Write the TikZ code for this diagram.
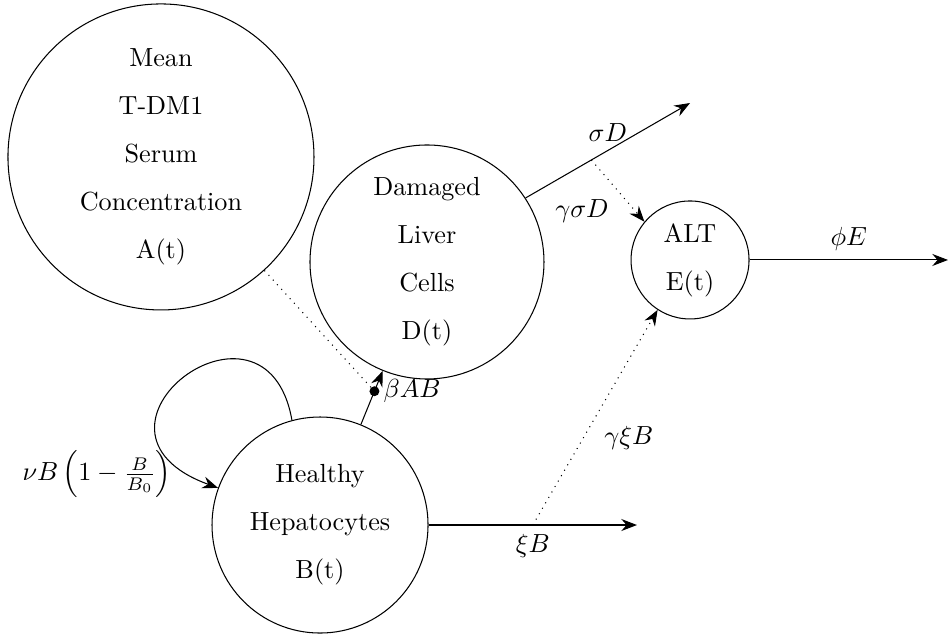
\documentclass[tikz,border=0pt]{standalone}
\usepackage{tikz}
\usetikzlibrary{calc,arrows.meta}

\begin{document}
\begin{tikzpicture}[>={Stealth[length=6pt,width=4.6pt,inset=2pt]},
	compartment/.style={circle, draw, align=center, inner sep=0pt}]
		\useasboundingbox (0,0) rectangle (12.726,8.551);
		\node [compartment, minimum size=4.108cm] (A) at (2.161,6.444) {Mean\\[6.3pt]T-DM1\\[6.3pt]Serum\\[6.3pt]Concentration\\[6.3pt]A(t)};
		\node [compartment, minimum size=3.141cm] (D) at (5.732,5.034) {Damaged\\[6.3pt]Liver\\[6.3pt]Cells\\[6.3pt]D(t)};
		\node [compartment, minimum size=1.584cm] (E) at (9.263,5.061) {ALT\\[6.3pt]E(t)};
		\node [compartment, minimum size=2.900cm] (B) at (4.296,1.503) {Healthy\\[6.3pt]Hepatocytes\\[6.3pt]B(t)};
		\coordinate (Dout) at (9.263,7.168);
		\coordinate (Eout) at (12.726,5.061);
		\coordinate (Bout) at (8.551,1.503);
		\draw [->] (D.33) -- node [above] (sD) {$\sigma D$} coordinate [pos=0.4] (Dsplit) (Dout);
		\draw [->, dotted] (Dsplit) -- node [below left] (gsD) {$\gamma\sigma D$} (E.140);
		\draw [->] (E) -- node [above] (pE) {$\phi E$} (Eout);
		\draw [->] (B) -- node [below] (xB) {$\xi B$} coordinate [midway] (Bsplit) (Bout);
		\draw [->, dotted] (Bsplit) -- node [below right] (gxB) {$\gamma\xi B$} (E.237);
		\draw [->] (B) -- coordinate [pos=0.62] (mod) node [pos=0.62, right] (bAB) {$\beta AB$} (D);
		\draw [dotted] (A) -- (mod);
		\fill (mod) circle (1.9pt);
		\draw [->] (B.105) to [out=100, in=160, out distance=2.01cm, in distance=2.28cm] node [pos=0.9, left, yshift=-2.5pt] (nuB) {$\nu B\left(1-\frac{B}{B_0}\right)$} (B.160);
\end{tikzpicture}
\end{document}
